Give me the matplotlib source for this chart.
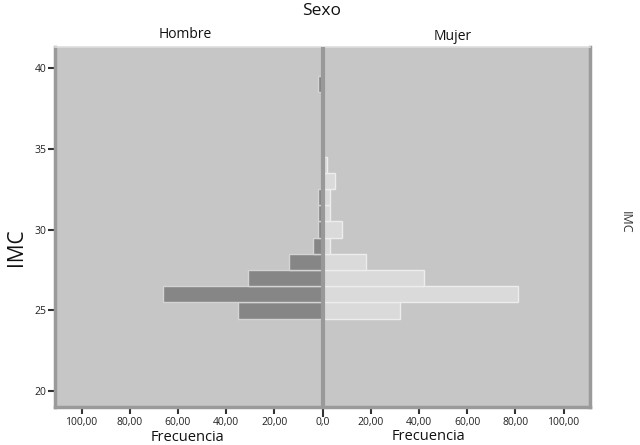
import matplotlib
matplotlib.use("Agg")
import matplotlib.pyplot as plt

plt.rcParams["font.family"] = ["Open Sans", "DejaVu Sans"]

# IMC bins (centre of each 1-unit class) and counts per sex
imc_hombre = [25, 26, 27, 28, 29, 30, 31, 32, 39]
freq_hombre = [35, 66, 31, 14, 4, 2, 2, 2, 2]
imc_mujer = [25, 26, 27, 28, 29, 30, 31, 32, 33, 34]
freq_mujer = [32, 81, 42, 18, 3, 8, 3, 3, 5, 2]

x_ticks = [-100, -80, -60, -40, -20, 0, 20, 40, 60, 80, 100]
x_labels = ["100,00", "80,00", "60,00", "40,00", "20,00", "0,0",
            "20,00", "40,00", "60,00", "80,00", "100,00"]
y_ticks = [20, 25, 30, 35, 40]

fig = plt.figure(figsize=(6.4, 4.45), dpi=100)
ax = fig.add_axes([0.086, 0.085, 0.836, 0.809])
ax.set_facecolor("#c6c6c6")

ax.barh(imc_hombre, [-v for v in freq_hombre], height=1.0, color="#868686",
        edgecolor="#d4d4d4", linewidth=1.0, zorder=2)
ax.barh(imc_mujer, freq_mujer, height=1.0, color="#dadada",
        edgecolor="#ededed", linewidth=1.0, zorder=2)
ax.axvline(0, color="#999999", linewidth=3, zorder=3)

ax.set_xlim(-111, 111)
ax.set_ylim(19.03, 41.26)

# panel frame
for side in ("left", "right"):
    ax.spines[side].set_color("#9a9a9a")
    ax.spines[side].set_linewidth(2.5)
ax.spines["top"].set_color("#dedede")
ax.spines["top"].set_linewidth(1.2)
ax.spines["bottom"].set_visible(False)
ax.spines["bottom"].set_position(("outward", 1.5))
ax.plot([0, 1], [0, 0], transform=ax.transAxes, color="#9a9a9a",
        linewidth=2.5, clip_on=False, zorder=4)

ax.set_xticks(x_ticks)
ax.set_xticklabels(x_labels, fontsize=7.5, color="#222222")
ax.tick_params(axis="x", length=3.5, width=1.5, color="#333333", pad=2)
ax.xaxis.get_major_ticks()[5].tick1line.set_markersize(6)
ax.xaxis.get_major_ticks()[5].tick1line.set_color("#999999")

ax.set_yticks(y_ticks)
ax.set_yticklabels([str(v) for v in y_ticks], fontsize=7.5, color="#222222")
ax.tick_params(axis="y", length=5, width=1.5, color="#333333", pad=1)

# titles and labels
fig.text(0.502, 0.975, "Sexo", ha="center", va="center", fontsize=12.5, color="#111111")
fig.text(0.29, 0.923, "Hombre", ha="center", va="center", fontsize=10, color="#111111")
fig.text(0.708, 0.918, "Mujer", ha="center", va="center", fontsize=10, color="#111111")
fig.text(0.293, 0.0, "Frecuencia", ha="center", va="bottom", fontsize=10.5, color="#111111")
fig.text(0.669, 0.003, "Frecuencia", ha="center", va="bottom", fontsize=10.5, color="#111111")
fig.text(0.025, 0.445, "IMC", ha="center", va="center", rotation=90, fontsize=15, color="#111111")
fig.text(0.977, 0.50, "IMC", ha="center", va="center", rotation=-90, fontsize=9, color="#333333")

fig.savefig("out.png", dpi=100, facecolor="white")
